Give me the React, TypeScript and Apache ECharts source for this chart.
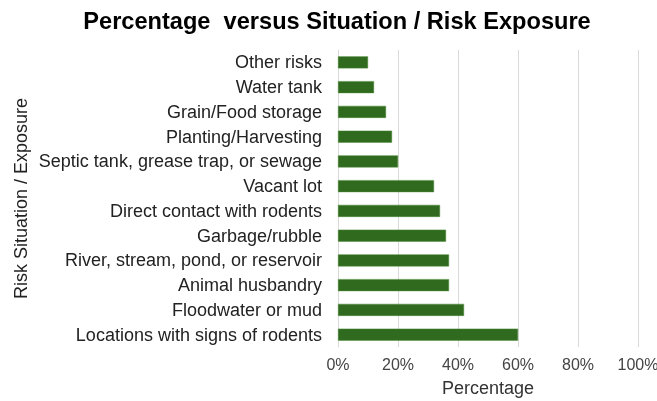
import React, { useEffect, useRef } from "react";
import * as echarts from "echarts";

const categories = [
  "Locations with signs of rodents",
  "Floodwater or mud",
  "Animal husbandry",
  "River, stream, pond, or reservoir",
  "Garbage/rubble",
  "Direct contact with rodents",
  "Vacant lot",
  "Septic tank, grease trap, or sewage",
  "Planting/Harvesting",
  "Grain/Food storage",
  "Water tank",
  "Other risks",
];
const values = [60, 42, 37, 37, 36, 34, 32, 20, 18, 16, 12, 10];
const xTicks = [0, 20, 40, 60, 80, 100];

export default function App() {
  const ref = useRef<HTMLDivElement>(null);
  useEffect(() => {
    const chart = echarts.init(ref.current!, null, { renderer: "svg" });
    const font = "Liberation Sans, Arial, sans-serif";
    chart.setOption({
      animation: false,
      title: {
        text: "Percentage  versus Situation / Risk Exposure",
        left: 332,
        textAlign: "center",
        top: 4,
        textStyle: { fontFamily: font, fontWeight: "bold", fontSize: 23.6, color: "#000" },
      },
      grid: {
        left: 338,
        right: 19,
        top: 50,
        bottom: 54,
        containLabel: false,
        outerBoundsMode: "none",
      },
      xAxis: {
        type: "value",
        min: 0,
        max: 100,
        interval: 20,
        name: "Percentage",
        nameLocation: "middle",
        nameGap: 32,
        nameTextStyle: { fontFamily: font, fontSize: 18, color: "#333" },
        axisLabel: {
          formatter: (v: number) => (xTicks.includes(v) ? v + "%" : ""),
          fontFamily: font,
          fontSize: 16,
          color: "#444",
          margin: 9,
        },
        axisLine: { show: false },
        axisTick: { show: false },
        splitLine: { show: true, lineStyle: { color: "#d9d9d9", width: 1 } },
      },
      yAxis: {
        type: "category",
        data: categories,
        name: "Risk Situation / Exposure",
        nameLocation: "middle",
        nameGap: 308,
        nameRotate: 90,
        nameTextStyle: { fontFamily: font, fontSize: 18, color: "#222" },
        axisLabel: { fontFamily: font, fontSize: 18, color: "#222", margin: 16 },
        axisLine: { show: true, lineStyle: { color: "#d9d9d9", width: 1 } },
        axisTick: { show: false },
      },
      series: [
        {
          type: "bar",
          data: values,
          barWidth: 12,
          itemStyle: { color: "#2f6a1e", borderColor: "#4a8a36", borderWidth: 0.5 },
        },
      ],
    });
    return () => chart.dispose();
  }, []);
  return (
    <div
      ref={ref}
      style={{ position: "fixed", left: 0, top: 0, width: 657, height: 401 }}
    />
  );
}
